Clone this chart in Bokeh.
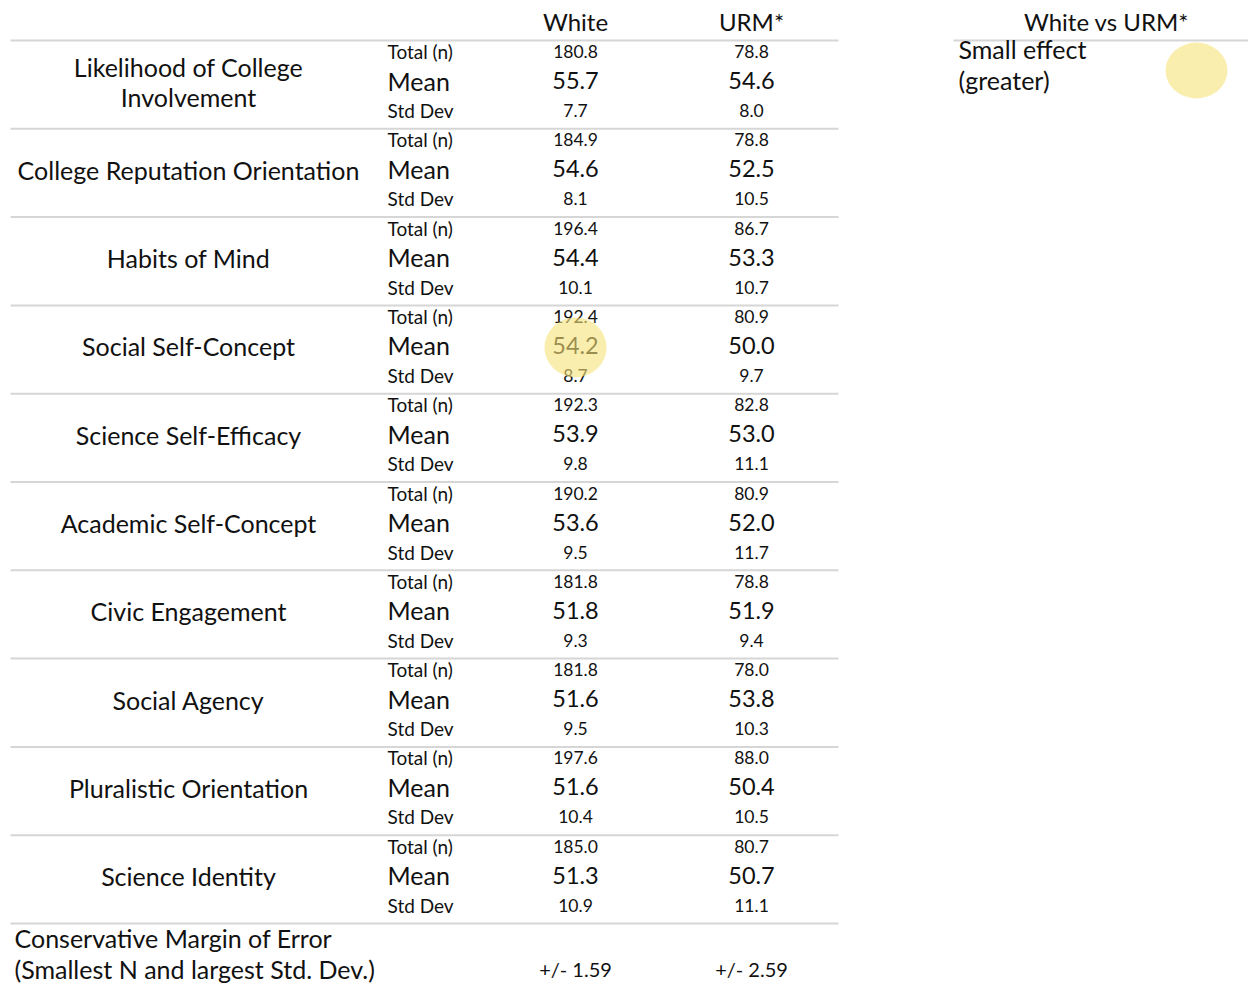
from bokeh.plotting import figure
from bokeh.models import Range1d
from bokeh.core.properties import value
from bokeh.embed import file_html
from bokeh.resources import INLINE

categories = ["Likelihood of College\nInvolvement", "College Reputation Orientation", "Habits of Mind",
              "Social Self-Concept", "Science Self-Efficacy", "Academic Self-Concept",
              "Civic Engagement", "Social Agency", "Pluralistic Orientation", "Science Identity"]
white_n = [180.8, 184.9, 196.4, 192.4, 192.3, 190.2, 181.8, 181.8, 197.6, 185.0]
white_mean = [55.7, 54.6, 54.4, 54.2, 53.9, 53.6, 51.8, 51.6, 51.6, 51.3]
white_sd = [7.7, 8.1, 10.1, 8.7, 9.8, 9.5, 9.3, 9.5, 10.4, 10.9]
urm_n = [78.8, 78.8, 86.7, 80.9, 82.8, 80.9, 78.8, 78.0, 88.0, 80.7]
urm_mean = [54.6, 52.5, 53.3, 50.0, 53.0, 52.0, 51.9, 53.8, 50.4, 50.7]
urm_sd = [8.0, 10.5, 10.7, 9.7, 11.1, 11.7, 9.4, 10.3, 10.5, 11.1]
groups = ["White", "URM*"]
stat_labels = ["Total (n)", "Mean", "Std Dev"]
margin_label = ["Conservative Margin of Error", "(Smallest N and largest Std. Dev.)"]
margin_values = ["+/- 1.59", "+/- 2.59"]
comparison = "White vs URM*"
effect_label = ["Small effect", "(greater)"]
highlight_row = 3  # Social Self-Concept, White mean

FONT = value("Lato")
INK = "#111111"
LINE = "#d6d6d6"
HL = "#f7e27a"

W, H = 1248, 984
p = figure(width=W, height=H, x_range=Range1d(0, W), y_range=Range1d(H, 0),
           output_backend="svg", toolbar_location=None, min_border=0)
p.axis.visible = False
p.grid.visible = False
p.outline_line_color = None

top = 40.0
gh = 88.3
col_x = [575, 751]
sub_x = 387
cat_x = 188
dy = -2  # baseline correction for the font

def txt(x, y, t, size, align="center", color=INK):
    p.text(x=x, y=[v + dy for v in y], text=t, text_font=FONT, text_font_size=size,
           text_color=color, text_align=align, text_baseline="middle")

# header
txt(col_x, [23, 23], groups, "24px")
txt([1106], [23], [comparison], "24px")

# lines
ly = [top + gh * k for k in range(len(categories) + 1)]
p.segment(x0=[10] * len(ly), y0=ly, x1=[838] * len(ly), y1=ly, line_color=LINE, line_width=2)
p.segment(x0=[953], y0=[top], x1=[1248], y1=[top], line_color=LINE, line_width=2)

# rows
cx, cy, ct = [], [], []
for i, c in enumerate(categories):
    lines = c.split("\n")
    base = top + gh * i + 43
    for j, l in enumerate(lines):
        cx.append(cat_x)
        cy.append(base + (j - (len(lines) - 1) / 2) * 30)
        ct.append(l)
txt(cx, cy, ct, "25px")

offs = [13, 42, 72]
label_sizes = ["19px", "25px", "19px"]
value_sizes = ["17.5px", "23.5px", "17.5px"]
series = [(white_n, urm_n), (white_mean, urm_mean), (white_sd, urm_sd)]
for k in range(3):
    ys = [top + gh * i + offs[k] for i in range(len(categories))]
    txt([sub_x] * len(ys), ys, [stat_labels[k]] * len(ys), label_sizes[k], align="left")
    for g in range(2):
        vals = series[k][g]
        txt([col_x[g]] * len(ys), ys, [f"{v:.1f}" for v in vals], value_sizes[k])

# footer
fy = top + gh * len(categories)
txt([14, 14], [fy + 16, fy + 47], margin_label, "25px", align="left")
txt(col_x, [fy + 47, fy + 47], margin_values, "20px")

# right legend
txt([958, 958], [50, 81], effect_label, "25px", align="left")
p.ellipse(x=[1196], y=[70], width=62, height=56, fill_color=HL, fill_alpha=0.6, line_color=None)

# highlight
p.ellipse(x=[col_x[0]], y=[top + gh * highlight_row + 42], width=62, height=60,
          fill_color=HL, fill_alpha=0.6, line_color=None)

open("out.html", "w").write(file_html(p, INLINE))
